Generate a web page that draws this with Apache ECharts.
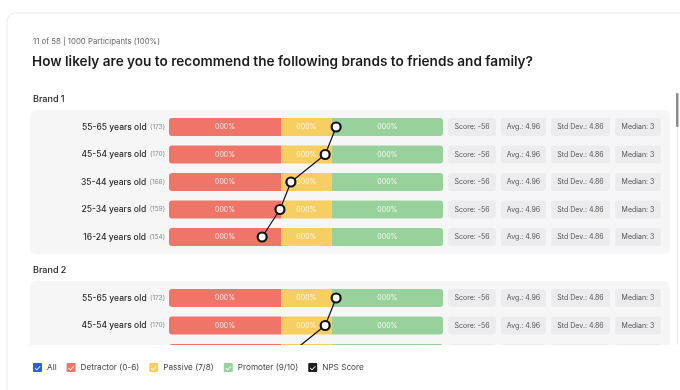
<!DOCTYPE html>
<html>
<head>
<meta charset="utf-8">
<script src="https://cdn.jsdelivr.net/npm/echarts@6/dist/echarts.min.js"></script>
<style>
html,body{margin:0;padding:0;background:#fff;}
#chart{width:680px;height:390px;}
</style>
</head>
<body>
<div id="chart"></div>
<script>
// ---------- data ----------
const subtitleText = '11 of 58 | 1000 Participants (100%)';
const questionText = 'How likely are you to recommend the following brands to friends and family?';
const brandNames = ['Brand 1', 'Brand 2'];
const ageGroups = ['55-65 years old', '45-54 years old', '35-44 years old', '25-34 years old', '16-24 years old'];
const groupCounts = [173, 170, 166, 159, 154];
const segmentLabel = '000%';

const brand1Detractor = [40.9, 40.9, 40.9, 40.9, 40.9];
const brand1Passive   = [18.5, 18.5, 18.5, 18.5, 18.5];
const brand1Promoter  = [40.6, 40.6, 40.6, 40.6, 40.6];
const brand1Nps       = [22, 14, -11, -19, -32];

const brand2Detractor = [40.9, 40.9, 40.9, 40.9, 40.9];
const brand2Passive   = [18.5, 18.5, 18.5, 18.5, 18.5];
const brand2Promoter  = [40.6, 40.6, 40.6, 40.6, 40.6];
const brand2Nps       = [22, 14, -11, -19, -32];

const scoreValues  = [-56, -56, -56, -56, -56];
const avgValues    = [4.96, 4.96, 4.96, 4.96, 4.96];
const stdDevValues = [4.86, 4.86, 4.86, 4.86, 4.86];
const medianValues = [3, 3, 3, 3, 3];

const legendNames = ['All', 'Detractor (0-6)', 'Passive (7/8)', 'Promoter (9/10)', 'NPS Score'];

// ---------- style ----------
const FONT = 'Inter, "Noto Sans", sans-serif';
const C_RED = '#ef7569', C_YEL = '#f7ce62', C_GRN = '#99d19c', C_BLUE = '#2d5de8', C_BLK = '#1e1e1e';
const checkIcon = 'path://M1,0 H9 Q10,0 10,1 V9 Q10,10 9,10 H1 Q0,10 0,9 V1 Q0,0 1,0 Z M2.5,5.2 L1.8,5.9 L4.2,8.2 L8.3,4.0 L7.6,3.3 L4.2,6.9 Z';

const ROW = 27.5;
// Brand 1 shows all rows; Brand 2 is scrolled so only its first three rows are in view
const gridTops = [113.25, 284.25];
const visibleRows = [5, 3];

const grids = [], xAxes = [], yAxes = [], series = [];
const brandData = [
  { det: brand1Detractor, pas: brand1Passive, pro: brand1Promoter, nps: brand1Nps },
  { det: brand2Detractor, pas: brand2Passive, pro: brand2Promoter, nps: brand2Nps }
];

brandData.forEach((b, g) => {
  grids.push({ left: 169, right: 237, top: gridTops[g], height: ROW * visibleRows[g], containLabel: false });
  xAxes.push({ gridIndex: g, type: 'value', min: 0, max: 100, show: false });
  xAxes.push({ gridIndex: g, type: 'value', min: -100, max: 100, show: false });
  const catMax = visibleRows[g] - 1;
  yAxes.push({
    gridIndex: g, type: 'category', data: ageGroups, inverse: true, position: 'left', max: catMax,
    axisLine: { show: false }, axisTick: { show: false }, splitLine: { show: false },
    axisLabel: {
      margin: 4,
      formatter: (v, i) => '{n|' + v + '} {c|(' + groupCounts[i] + ')}',
      rich: {
        n: { fontFamily: FONT, fontSize: 8.5, fontWeight: 500, color: '#2a2a2a' },
        c: { fontFamily: FONT, fontSize: 6.5, color: '#8a8a8a' }
      }
    }
  });
  yAxes.push({
    gridIndex: g, type: 'category', data: ageGroups, inverse: true, position: 'right', max: catMax,
    axisLine: { show: false }, axisTick: { show: false }, splitLine: { show: false },
    axisLabel: {
      margin: 5, align: 'left',
      formatter: (v, i) =>
        '{s|Score: ' + scoreValues[i] + '}{g| }{a|Avg.: ' + avgValues[i].toFixed(2) +
        '}{g| }{d|Std Dev.: ' + stdDevValues[i].toFixed(2) + '}{g| }{m|Median: ' + medianValues[i] + '}',
      rich: (() => {
        const box = { fontFamily: FONT, fontSize: 7, color: '#555', backgroundColor: '#ececee',
                      borderRadius: 3, height: 18, lineHeight: 18, align: 'center' };
        return {
          s: Object.assign({}, box, { width: 48 }),
          a: Object.assign({}, box, { width: 45 }),
          d: Object.assign({}, box, { width: 59 }),
          m: Object.assign({}, box, { width: 46 }),
          g: { width: 5, fontSize: 7 }
        };
      })()
    }
  });
  const xa = g * 2, ya = g * 2;
  const label = { show: true, position: 'inside', formatter: segmentLabel,
                  color: 'rgba(255,255,255,0.85)', fontFamily: FONT, fontSize: 7 };
  series.push({ name: 'Detractor (0-6)', type: 'bar', stack: 'b' + g, xAxisIndex: xa, yAxisIndex: ya,
    barWidth: 18, data: b.det, itemStyle: { color: C_RED, borderRadius: [3, 0, 0, 3] }, label });
  series.push({ name: 'Passive (7/8)', type: 'bar', stack: 'b' + g, xAxisIndex: xa, yAxisIndex: ya,
    barWidth: 18, data: b.pas, itemStyle: { color: C_YEL }, label });
  series.push({ name: 'Promoter (9/10)', type: 'bar', stack: 'b' + g, xAxisIndex: xa, yAxisIndex: ya,
    barWidth: 18, data: b.pro, itemStyle: { color: C_GRN, borderRadius: [0, 3, 3, 0] }, label });
  if (g === 0) {
    series.push({ name: 'All', type: 'bar', stack: 'b0', xAxisIndex: 0, yAxisIndex: 0, barWidth: 18,
      data: [], itemStyle: { color: C_BLUE } });
  }
  series.push({ name: 'NPS Score', type: 'line', xAxisIndex: xa + 1, yAxisIndex: ya,
    data: b.nps.map((v, i) => [v, ageGroups[i]]),
    symbol: 'circle', symbolSize: 9, z: 5,
    itemStyle: { color: '#fff', borderColor: '#111', borderWidth: 2.2 },
    lineStyle: { color: '#111', width: 1.2 } });
});

const option = {
  animation: false,
  backgroundColor: '#fff',
  textStyle: { fontFamily: FONT },
  title: [
    { text: subtitleText, left: 33, top: 38, padding: 0, textStyle: { fontFamily: FONT, fontSize: 7.8, fontWeight: 400, color: '#666' } },
    { text: questionText, left: 32, top: 55, padding: 0, textStyle: { fontFamily: FONT, fontSize: 13.6, fontWeight: 600, color: '#1c1c1c' } },
    { text: brandNames[0], left: 33, top: 94.5, padding: 0, textStyle: { fontFamily: FONT, fontSize: 9, fontWeight: 500, color: '#222' } },
    { text: brandNames[1], left: 33, top: 265.5, padding: 0, textStyle: { fontFamily: FONT, fontSize: 9, fontWeight: 500, color: '#222' } }
  ],
  grid: grids,
  xAxis: xAxes,
  yAxis: yAxes,
  series: series,
  legend: {
    left: 33, top: 363, padding: 0, z: 60, itemWidth: 9, itemHeight: 9, itemGap: 10, selectedMode: false,
    textStyle: { fontFamily: FONT, fontSize: 8.2, color: '#444' },
    data: legendNames.map((n, i) => ({
      name: n, icon: checkIcon,
      itemStyle: { color: [C_BLUE, C_RED, C_YEL, C_GRN, C_BLK][i], borderWidth: 0 },
      lineStyle: { opacity: 0, width: 0 }
    }))
  },
  graphic: [
    { type: 'rect', z: -5, shape: { x: 7, y: 13, width: 720, height: 420, r: 8 },
      style: { fill: '#fff', stroke: '#ebebeb', lineWidth: 1 } },
    { type: 'rect', z: -4, shape: { x: 30, y: 110, width: 640, height: 144, r: 6 }, style: { fill: '#f6f6f6' } },
    { type: 'rect', z: -4, shape: { x: 30, y: 281, width: 640, height: 144, r: 6 }, style: { fill: '#f6f6f6' } },
    { type: 'rect', z: 50, shape: { x: 8, y: 345, width: 672, height: 45 }, style: { fill: '#fff' } },
    { type: 'rect', z: 51, shape: { x: 677, y: 93, width: 1, height: 252 }, style: { fill: '#ececec' } },
    { type: 'rect', z: 52, shape: { x: 676, y: 93, width: 2.5, height: 34, r: 1 }, style: { fill: '#8c8c8c' } }
  ]
};

const chart = echarts.init(document.getElementById('chart'), null, { renderer: 'canvas' });
chart.setOption(option);
</script>
</body>
</html>
